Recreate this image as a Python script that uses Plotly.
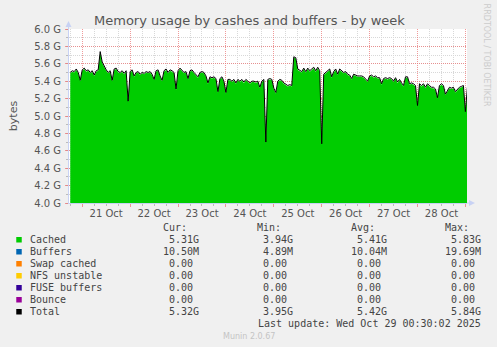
import plotly.graph_objects as go
import pandas as pd

# ---------------- data ----------------
title = "Memory usage by cashes and buffers - by week"
start_time = "2025-10-20 18:00"   # first hourly sample
cached_g = [
    5.49, 5.51, 5.50, 5.53, 5.49, 5.40, 5.52, 5.54, 5.51, 5.52,
    5.49, 5.51, 5.46, 5.51, 5.52, 5.73, 5.61, 5.56, 5.52, 5.49,
    5.51, 5.40, 5.53, 5.54, 5.50, 5.49, 5.51, 5.48, 5.51, 5.16,
    5.50, 5.52, 5.45, 5.49, 5.50, 5.47, 5.49, 5.48, 5.50, 5.49,
    5.50, 5.47, 5.41, 5.51, 5.52, 5.45, 5.40, 5.51, 5.53, 5.49,
    5.52, 5.51, 5.49, 5.30, 5.51, 5.54, 5.52, 5.49, 5.50, 5.42,
    5.51, 5.52, 5.49, 5.46, 5.44, 5.49, 5.50, 5.49, 5.45, 5.37,
    5.44, 5.43, 5.44, 5.42, 5.27, 5.42, 5.44, 5.39, 5.26, 5.41,
    5.41, 5.39, 5.41, 5.37, 5.41, 5.39, 5.41, 5.38, 5.41, 5.39,
    5.37, 5.39, 5.39, 5.38, 5.39, 5.32, 5.39, 5.41, 4.69, 5.41,
    5.42, 5.41, 5.31, 5.26, 5.39, 5.41, 5.40, 5.37, 5.35, 5.34,
    5.35, 5.34, 5.67, 5.66, 5.53, 5.51, 5.50, 5.54, 5.50, 5.54,
    5.51, 5.53, 5.55, 5.51, 5.55, 5.51, 4.67, 5.47, 5.49, 5.51,
    5.53, 5.44, 5.50, 5.53, 5.47, 5.53, 5.51, 5.49, 5.50, 5.47,
    5.46, 5.42, 5.47, 5.46, 5.45, 5.45, 5.45, 5.44, 5.41, 5.39,
    5.45, 5.46, 5.44, 5.45, 5.43, 5.43, 5.36, 5.42, 5.43, 5.42,
    5.43, 5.42, 5.39, 5.43, 5.38, 5.41, 5.37, 5.34, 5.44, 5.44,
    5.36, 5.37, 5.36, 5.34, 5.11, 5.36, 5.34, 5.36, 5.32, 5.36,
    5.34, 5.32, 5.32, 5.30, 5.20, 5.34, 5.36, 5.34, 5.24, 5.29,
    5.32, 5.31, 5.32, 5.27, 5.30, 5.32, 5.33, 5.34, 5.04, 5.32,
]
buffers_g = 0.0105  # ~10.5 MB of buffers on top of cached

y_tick_vals = [4.0, 4.2, 4.4, 4.6, 4.8, 5.0, 5.2, 5.4, 5.6, 5.8, 6.0]
y_tick_text = ["4.0 G", "4.2 G", "4.4 G", "4.6 G", "4.8 G", "5.0 G",
               "5.2 G", "5.4 G", "5.6 G", "5.8 G", "6.0 G"]
day_label_pos = ["2025-10-21 12:00", "2025-10-22 12:00", "2025-10-23 12:00",
                 "2025-10-24 12:00", "2025-10-25 12:00", "2025-10-26 12:00",
                 "2025-10-27 12:00", "2025-10-28 12:00"]
day_labels = ["21 Oct", "22 Oct", "23 Oct", "24 Oct", "25 Oct", "26 Oct",
              "27 Oct", "28 Oct"]
x_range = ["2025-10-20 17:22", "2025-10-29 00:48"]

legend_names = ["Cached", "Buffers", "Swap cached", "NFS unstable",
                "FUSE buffers", "Bounce", "Total"]
legend_colors = ["#00CC00", "#0066B3", "#FF8000", "#FFCC00",
                 "#330099", "#990099", "#000000"]
col_cur = ["5.31G", "10.50M", "0.00 ", "0.00 ", "0.00 ", "0.00 ", "5.32G"]
col_min = ["3.94G", "4.89M", "0.00 ", "0.00 ", "0.00 ", "0.00 ", "3.95G"]
col_avg = ["5.41G", "10.04M", "0.00 ", "0.00 ", "0.00 ", "0.00 ", "5.42G"]
col_max = ["5.83G", "19.69M", "0.00 ", "0.00 ", "0.00 ", "0.00 ", "5.84G"]
col_headers = ["Cur:", "Min:", "Avg:", "Max:"]
last_update = "Last update: Wed Oct 29 00:30:02 2025"
munin_version = "Munin 2.0.67"
rrd_credit = "RRDTOOL / TOBI OETIKER"

# ---------------- layout geometry ----------------
W, H = 497, 347
L, R, T, B = 67, 467, 29, 203


def px(x):
    return (x - L) / (R - L)


def py(y):
    return (B - y) / (B - T)


times = pd.date_range(start_time, periods=len(cached_g), freq="h")
total_g = [c + buffers_g for c in cached_g]

MAJOR = "rgba(235,120,120,0.75)"
MINOR = "#D8D8D8"
AXIS = "#C8D2F4"
TXT = "#555555"

fig = go.Figure()
fig.add_trace(go.Scatter(
    x=times, y=cached_g, mode="lines", fill="tozeroy",
    fillcolor="#00CC00", line=dict(width=0, color="#00CC00"),
    hoverinfo="skip", showlegend=False,
))
fig.add_trace(go.Scatter(
    x=times, y=total_g, mode="lines", xaxis="x2",
    line=dict(width=1, color="#000000"),
    hoverinfo="skip", showlegend=False,
))

fig.update_layout(
    width=W, height=H,
    margin=dict(l=L, r=W - R, t=T, b=H - B, pad=0),
    paper_bgcolor="#F0F0F0", plot_bgcolor="#FFFFFF",
    font=dict(family="DejaVu Sans", size=10, color=TXT),
    showlegend=False,
    xaxis=dict(
        type="date", range=x_range,
        tick0="2025-10-21 00:00", dtick=86400000,
        showticklabels=False, ticks="outside", ticklen=3, tickcolor=MAJOR,
        showgrid=True, gridcolor=MAJOR, griddash="1px,1px", gridwidth=1,
        minor=dict(dtick=6 * 3600000, showgrid=True, gridcolor=MINOR,
                   griddash="1px,1px", ticks="outside", ticklen=2,
                   tickcolor="#BBBBBB"),
        showline=True, linecolor=AXIS, linewidth=1,
        zeroline=False, fixedrange=True,
    ),
    xaxis2=dict(
        type="date", overlaying="x", matches="x", anchor="y", side="bottom",
        range=x_range,
        tickmode="array", tickvals=day_label_pos, ticktext=day_labels,
        ticks="", showgrid=False, showline=False, zeroline=False,
        tickfont=dict(family="DejaVu Sans", size=10, color=TXT),
        ticklabelstandoff=3,
    ),
    yaxis=dict(
        range=[4.0, 6.0], tickmode="array", tickvals=y_tick_vals,
        ticktext=y_tick_text, ticks="outside", ticklen=3, tickcolor=MAJOR,
        showgrid=True, gridcolor=MAJOR, griddash="1px,1px", gridwidth=1,
        minor=dict(dtick=0.1, tick0=4.0, showgrid=True, gridcolor=MINOR,
                   griddash="1px,1px", ticks="outside", ticklen=2,
                   tickcolor="#BBBBBB"),
        showline=True, linecolor=AXIS, linewidth=1,
        zeroline=False, fixedrange=True,
        tickfont=dict(family="DejaVu Sans", size=10, color=TXT),
        ticklabelstandoff=2,
        title=dict(text="bytes", font=dict(size=11, color=TXT), standoff=14),
    ),
)

annotations = []
shapes = []

# Title
annotations.append(dict(
    text=title, xref="paper", yref="paper", x=px(248), y=py(20),
    xanchor="center", yanchor="middle", showarrow=False,
    font=dict(family="DejaVu Sans", size=13, color=TXT),
))
# RRDtool credit (vertical)
annotations.append(dict(
    text=rrd_credit, xref="paper", yref="paper", x=px(487.5), y=py(55),
    xanchor="center", yanchor="middle", showarrow=False, textangle=90,
    font=dict(family="DejaVu Sans", size=8, color="#CCCCCC"),
))

# axis arrows and axis extension
shapes.append(dict(type="line", xref="paper", yref="paper",
                   x0=px(66.5), x1=px(66.5), y0=py(T), y1=py(24),
                   line=dict(color=AXIS, width=1)))
shapes.append(dict(type="path", xref="paper", yref="paper",
                   path=f"M {px(63.5)} {py(27)} L {px(69.5)} {py(27)} L {px(66.5)} {py(21)} Z",
                   fillcolor=AXIS, line=dict(width=0)))
shapes.append(dict(type="line", xref="paper", yref="paper",
                   x0=px(R), x1=px(471), y0=py(203), y1=py(203),
                   line=dict(color=AXIS, width=1)))
shapes.append(dict(type="path", xref="paper", yref="paper",
                   path=f"M {px(469)} {py(200)} L {px(469)} {py(206)} L {px(475)} {py(203)} Z",
                   fillcolor=AXIS, line=dict(width=0)))

MONO = "DejaVu Sans Mono"
LTXT = "#444444"
header_y = 227.5
col_right = [199.5, 294.5, 388.5, 483.0]
for hdr, xr in zip(col_headers, col_right):
    annotations.append(dict(
        text=hdr, xref="paper", yref="paper", x=px(xr - 12), y=py(header_y),
        xanchor="right", yanchor="middle", showarrow=False,
        font=dict(family=MONO, size=10, color=LTXT),
    ))

for k, (name, color) in enumerate(zip(legend_names, legend_colors)):
    yc = 239.5 + 12 * k
    shapes.append(dict(type="rect", xref="paper", yref="paper",
                       x0=px(14), x1=px(19.5), y0=py(yc - 2.5), y1=py(yc + 3),
                       fillcolor=color, line=dict(width=0)))
    annotations.append(dict(
        text=name, xref="paper", yref="paper", x=px(25.5), y=py(yc),
        xanchor="left", yanchor="middle", showarrow=False,
        font=dict(family=MONO, size=10, color=LTXT),
    ))
    for col, xr in zip((col_cur, col_min, col_avg, col_max), col_right):
        annotations.append(dict(
            text=col[k].replace(" ", "&nbsp;"), xref="paper", yref="paper",
            x=px(xr), y=py(yc),
            xanchor="right", yanchor="middle", showarrow=False,
            font=dict(family=MONO, size=10, color=LTXT),
        ))

annotations.append(dict(
    text=last_update, xref="paper", yref="paper", x=px(483), y=py(323.7),
    xanchor="right", yanchor="middle", showarrow=False,
    font=dict(family=MONO, size=10, color=LTXT),
))
annotations.append(dict(
    text=munin_version, xref="paper", yref="paper", x=px(248), y=py(336),
    xanchor="center", yanchor="middle", showarrow=False,
    font=dict(family="DejaVu Sans", size=8, color="#C4C4C4"),
))

fig.update_layout(annotations=annotations, shapes=shapes)
fig.write_html("out.html")
